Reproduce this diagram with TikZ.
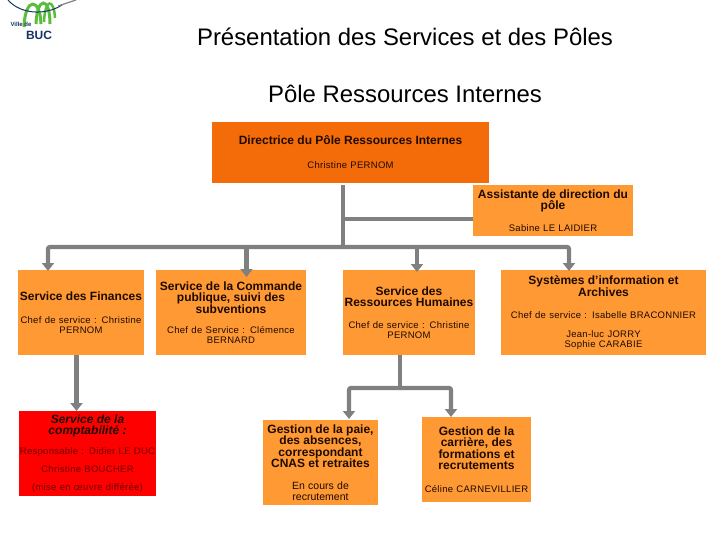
\documentclass[tikz,border=0pt]{standalone}
\usepackage{fontspec}
\setmainfont{Liberation Sans}
\newfontfamily\smallfont[LetterSpace=3]{Liberation Sans}
\usepackage{xcolor}
\usepackage{tikz}
\usetikzlibrary{arrows.meta}
\definecolor{poleorange}{RGB}{243,108,9}
\definecolor{svcorange}{RGB}{255,153,51}
\definecolor{linkgray}{RGB}{128,128,128}
\definecolor{inkdark}{RGB}{30,10,0}
\definecolor{inkred}{RGB}{110,0,0}
\definecolor{bucblue}{RGB}{25,50,100}
\definecolor{bucgreen}{RGB}{90,190,60}
\newcommand{\headtxt}{\fontsize{12}{11.5}\selectfont\bfseries}
\newcommand{\bodytxt}{\normalfont\fontsize{9.5}{10}\selectfont\smallfont}
\makeatletter
\tikzset{
svcbox/.style={fill=svcorange,inner sep=0pt,align=center,text=inkdark,minimum width=#1,text width=#1,execute at begin node={\let\\\@centercr}},
link/.style={draw=linkgray,line width=4.2pt},
linkarrow/.style={link,-{Triangle[width=12pt,length=8pt]}},
}
\makeatother
\begin{document}
\begin{tikzpicture}[x=1pt,y=-1pt]
\useasboundingbox(0,0)rectangle(720,540);
% logo
\draw[bucgreen,line width=3pt](24,27)..controls(25,-3)and(40,-3)..(41,24);
\draw[bucgreen,line width=3pt](36,24)..controls(37,-4)and(50,-4)..(50,24);
\draw[bucgreen,line width=2.5pt](44,22)..controls(45,-2)and(54,-2)..(55,18);
\draw[bucblue,line width=1pt](8,0)..controls(20,14)and(45,16)..(62,5);
\draw[gray,line width=1.2pt](58,6)--(76,0);
\node[bucblue,font=\fontsize{6}{6}\selectfont\bfseries](villede)at(21,24){Ville de};
\node[bucblue,font=\fontsize{12}{12}\selectfont\bfseries](bucname)at(39,35){BUC};
% titres
\node[font=\fontsize{23.9}{24}\selectfont](titre)at(405,37){Présentation des Services et des Pôles};
\node[font=\fontsize{23.9}{24}\selectfont](soustitre)at(405,94){Pôle Ressources Internes};
% boites
\node[svcbox=277pt,fill=poleorange,minimum height=61pt](dirbox)at(350.5,152.5){\headtxt Directrice du Pôle Ressources Internes\\[14pt]\bodytxt Christine PERNOM\par};
\node[svcbox=160pt,minimum height=51pt](assistbox)at(553,210.5){\headtxt Assistante de direction du\\pôle\\[12pt]\bodytxt Sabine LE LAIDIER\par};
\node[svcbox=126pt,minimum height=85pt](finbox)at(81,312.5){\headtxt Service des Finances\\[13pt]\bodytxt Chef de service : Christine\\PERNOM\par};
\node[svcbox=150pt,minimum height=85pt](cmdbox)at(231,312.5){\headtxt Service de la Commande\\publique, suivi des\\subventions\\[10pt]\bodytxt Chef de Service : Clémence\\BERNARD\par};
\node[svcbox=132pt,minimum height=85pt](rhbox)at(409,312.5){\headtxt Service des\\Ressources Humaines\\[12pt]\bodytxt Chef de service : Christine\\PERNOM\par};
\node[svcbox=205pt,minimum height=85pt](sibox)at(603.5,312.5){\headtxt Systèmes d’information et\\Archives\\[12pt]\bodytxt Chef de service : Isabelle BRACONNIER\\[9pt]Jean-luc JORRY\\Sophie CARABIE\par};
\node[svcbox=137pt,fill=red,text=inkred,minimum height=85pt](comptabox)at(87.5,453.5){\color{inkdark}\headtxt\itshape Service de la\\comptabilité :\\[10pt]\color{inkred}\bodytxt Responsable : Didier LE DUC\\[8pt]Christine BOUCHER\\[8pt](mise en œuvre différée)\par};
\node[svcbox=115pt,minimum height=85pt](paiebox)at(320.5,462.5){\headtxt Gestion de la paie,\\des absences,\\correspondant\\CNAS et retraites\\[11.5pt]\normalfont\fontsize{10.5}{10.5}\selectfont En cours de\\recrutement\par};
\node[svcbox=109pt,minimum height=85pt](carrierebox)at(476.5,459.5){\headtxt Gestion de la\\carrière, des\\formations et\\recrutements\\[13pt]\bodytxt Céline CARNEVILLIER\par};
% liens
\coordinate(tee)at(343,219);
\coordinate(trunk)at(343,247);
\coordinate(finin)at(48,271);
\coordinate(cmdin)at(246.5,277);
\coordinate(rhin)at(417,272);
\coordinate(siin)at(569,271);
\coordinate(comptain)at(76.5,411);
\coordinate(rhfork)at(400,388);
\coordinate(paiein)at(349,419);
\coordinate(carrierein)at(451,417);
\draw[link,shorten <=2pt](trunk|-dirbox.south)--(trunk);
\draw[link](tee)--(tee-|assistbox.west);
\draw[linkarrow,rounded corners=2pt](trunk)-|(finin);
\draw[linkarrow,rounded corners=2pt](trunk)-|(siin);
\draw[linkarrow](cmdin|-trunk)--(cmdin);
\draw[linkarrow](rhin|-trunk)--(rhin);
\draw[linkarrow](comptain|-finbox.south)--(comptain);
\draw[link](rhfork|-rhbox.south)--(rhfork);
\draw[linkarrow,rounded corners=2pt](rhfork)-|(paiein);
\draw[linkarrow,rounded corners=2pt](rhfork)-|(carrierein);
\end{tikzpicture}
\end{document}
